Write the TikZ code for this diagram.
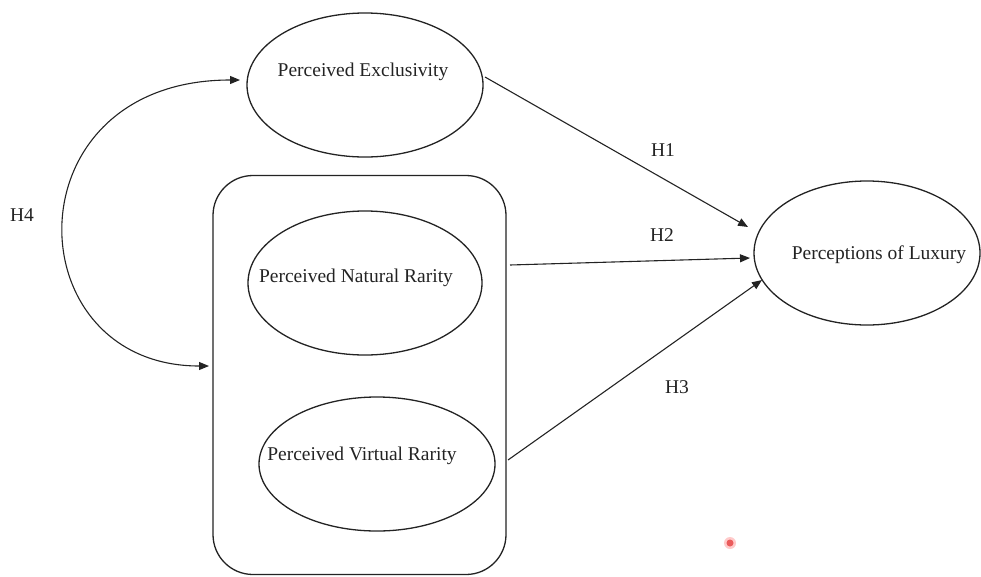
\documentclass[tikz,border=0pt]{standalone}
\usepackage{fontspec}
\setmainfont{Liberation Serif}
\usetikzlibrary{shapes.geometric,arrows.meta}
\definecolor{ink}{RGB}{35,35,35}
\tikzset{
  oval/.style={ellipse,draw=ink,line width=1.3pt,inner sep=0pt},
  lbl/.style={text=ink,inner sep=0pt,font=\fontsize{19.5}{23}\selectfont},
  link/.style={draw=ink,line width=1.1pt,-{Triangle[length=10pt,width=8pt]}},
}
\begin{document}
\begin{tikzpicture}[x=1pt,y=-1pt]
  \useasboundingbox (0,0) rectangle (981,576);

  % constructs
  \node[oval,minimum width=236pt,minimum height=144pt] (pe) at (365,85) {};
  \node[lbl] (tpe) at (363,72) {Perceived Exclusivity};

  \node[draw=ink,line width=1.3pt,rounded corners=40pt,minimum width=293pt,minimum height=399pt] (box) at (359.5,375) {};

  \node[oval,minimum width=234pt,minimum height=144pt] (pnr) at (365,283) {};
  \node[lbl] (tpnr) at (356,278) {Perceived Natural Rarity};

  \node[oval,minimum width=236pt,minimum height=134pt] (pvr) at (377,464) {};
  \node[lbl] (tpvr) at (362,456) {Perceived Virtual Rarity};

  \node[oval,minimum width=226pt,minimum height=144pt] (pl) at (867,253) {};
  \node[lbl] (tpl) at (879,255) {Perceptions of Luxury};

  % arrow ends
  \coordinate (s1) at (485,77);
  \coordinate (e1) at (748,227);
  \coordinate (s2) at (510,265);
  \coordinate (e2) at (750,258);
  \coordinate (s3) at (508,460);
  \coordinate (e3) at (762,280);
  \coordinate (a4) at (240,80);
  \coordinate (b4) at (209,366);

  % hypotheses
  \draw[link] (s1) -- (e1);
  \draw[link] (s2) -- (e2);
  \draw[link] (s3) -- (e3);
  \draw[draw=ink,line width=1.1pt,{Triangle[length=10pt,width=8pt]}-{Triangle[length=10pt,width=8pt]}]
    (a4) .. controls (8,80) and (14,366) .. (b4);

  \node[lbl] (h1) at (663,150) {H1};
  \node[lbl] (h2) at (662,235) {H2};
  \node[lbl] (h3) at (677,387) {H3};
  \node[lbl] (h4) at (22,215) {H4};

  % small red speck
  \fill[red!60!white,opacity=0.35] (730,543) circle (6pt);
  \fill[red!85!black,opacity=0.55] (730,543) circle (3.5pt);
\end{tikzpicture}
\end{document}
